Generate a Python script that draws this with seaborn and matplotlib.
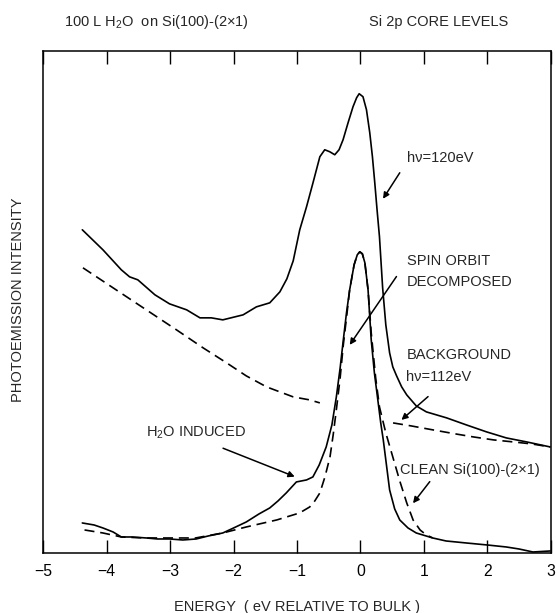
import numpy as np
import pandas as pd
import matplotlib
matplotlib.use("Agg")
import matplotlib.pyplot as plt
import seaborn as sns

# ---------------- data (energy in eV relative to bulk, intensity arb. units) ----
hv120_E = [-4.385, -4.06, -3.77, -3.64, -3.51, -3.24, -3.01, -2.74, -2.53, -2.35,
           -2.17, -1.85, -1.64, -1.43, -1.27, -1.16, -1.06, -0.957, -0.85, -0.748,
           -0.64, -0.563, -0.484, -0.405, -0.337, -0.274, -0.195, -0.117, -0.06, -0.02,
           0.04, 0.095, 0.147, 0.189, 0.226, 0.262, 0.30, 0.35, 0.40, 0.46,
           0.51, 0.57, 0.65, 0.73, 0.88, 1.04, 1.36, 1.67, 1.99, 2.30, 2.62, 2.99]
hv120_I = [323, 303, 283, 276, 273, 258, 249, 243, 235, 235,
           233, 238, 246, 250, 261, 274, 292, 323, 346, 370,
           396, 403, 401, 398, 403, 413, 430, 446, 455, 459,
           456, 443, 420, 396, 370, 343, 316, 265, 228, 200,
           186, 177, 166, 158, 147, 141, 135, 128, 121, 115, 111, 106]

bg1_E = [-4.375, -3.9, -3.4, -2.9, -2.48, -2.11, -1.80, -1.48, -1.06, -0.80, -0.64]
bg1_I = [285, 265, 244, 223, 205, 190, 177, 166, 156, 153, 150]
bg2_E = [0.514, 0.8, 1.145, 1.5, 1.78, 2.1, 2.41, 2.7, 2.99]
bg2_I = [130, 127, 123, 119, 116, 113, 111, 109, 106]

h2o_E = [-4.385, -4.2, -4.06, -3.9, -3.77, -3.6, -3.375, -3.2, -3.01, -2.8,
         -2.59, -2.4, -2.17, -2.0, -1.80, -1.6, -1.43, -1.3, -1.17, -1.01,
         -0.85, -0.75, -0.65, -0.54, -0.45, -0.38, -0.32, -0.27, -0.22, -0.17,
         -0.10, -0.05, -0.01, 0.03, 0.07, 0.12, 0.17, 0.22, 0.28, 0.32,
         0.36, 0.41, 0.46, 0.54, 0.62, 0.75, 0.88, 1.14, 1.35, 1.67,
         2.0, 2.30, 2.5, 2.72, 2.99]
h2o_I = [30, 28, 25, 21, 16, 16, 15, 14, 14, 13,
         14, 17, 20, 25, 31, 39, 45, 52, 60, 71,
         73, 76, 88, 106, 128, 156, 185, 213, 240, 263,
         288, 298, 301, 299, 290, 263, 213, 180, 150, 130,
         113, 88, 63, 44, 33, 25, 20, 15, 12, 10,
         8, 6, 4, 1, 2]

clean_E = [-4.35, -4.06, -3.77, -3.4, -3.01, -2.6, -2.17, -1.80, -1.32, -0.96,
           -0.80, -0.72, -0.64, -0.56, -0.48, -0.43, -0.38, -0.32, -0.27, -0.22,
           -0.17, -0.10, -0.05, -0.01, 0.03, 0.07, 0.12, 0.17, 0.24, 0.30,
           0.40, 0.51, 0.62, 0.73, 0.83, 0.94, 1.04, 1.14]
clean_I = [23, 20, 16, 15, 15, 15, 20, 26, 33, 40,
           46, 52, 60, 76, 96, 118, 143, 175, 208, 235,
           263, 288, 298, 301, 299, 290, 263, 220, 175, 146,
           120, 96, 72, 50, 33, 23, 18, 15]

x_ticks = [-5, -4, -3, -2, -1, 0, 1, 2, 3]

# ---------------- style ----------------
sns.set_style("white")
plt.rcParams['font.family'] = ['Liberation Sans', 'DejaVu Sans']
plt.rcParams['mathtext.fontset'] = 'custom'
plt.rcParams['mathtext.rm'] = 'Liberation Sans'
plt.rcParams['mathtext.it'] = 'Liberation Sans:italic'
plt.rcParams['axes.unicode_minus'] = True

FS = 10.5
fig = plt.figure(figsize=(5.56, 6.13), dpi=100)
ax = fig.add_axes([0.0779, 0.0979, 0.9126, 0.8194])

solid = dict(color='black', linewidth=1.2)
dash = dict(color='black', linewidth=1.2, linestyle=(0, (6, 3.5)))

sns.lineplot(x=hv120_E, y=hv120_I, ax=ax, sort=False, **solid)
sns.lineplot(x=bg1_E, y=bg1_I, ax=ax, sort=False, **dash)
sns.lineplot(x=bg2_E, y=bg2_I, ax=ax, sort=False, **dash)
sns.lineplot(x=clean_E, y=clean_I, ax=ax, sort=False, **dash)
sns.lineplot(x=h2o_E, y=h2o_I, ax=ax, sort=False, **solid)

ax.set_xlim(-5, 3)
ax.set_ylim(0, 502)
ax.set_xticks(x_ticks)
ax.set_xticklabels([f"{t}".replace('-', '\u2212') for t in x_ticks], fontsize=11.3)
ax.set_yticks([])
ax.tick_params(axis='x', which='both', direction='in', length=9.4, width=1.0,
               top=True, bottom=True, pad=8, colors='black')
for s in ax.spines.values():
    s.set_visible(True)
    s.set_linewidth(1.1)
    s.set_color('black')

ax.set_xlabel("ENERGY  ( eV RELATIVE TO BULK )", fontsize=FS, labelpad=15)
ax.set_ylabel("")

# titles and y label
fig.text(64 / 556, 1 - 22 / 613, "100 L H$_2$O  on Si(100)-(2\u00d71)", fontsize=FS,
         ha='left', va='center')
fig.text(369 / 556, 1 - 22 / 613, "Si 2p CORE LEVELS", fontsize=FS,
         ha='left', va='center')
fig.text(18.3 / 556, 1 - 300 / 613, "PHOTOEMISSION INTENSITY", fontsize=FS,
         rotation=90, ha='center', va='center')

# annotations
arrow = dict(arrowstyle='-|>', color='black', lw=1.1, mutation_scale=9,
             shrinkA=0, shrinkB=0)
ax.text(0.735, 394.7, "h\u03bd=120eV", fontsize=FS, ha='left', va='center')
ax.annotate("", xy=(0.356, 354), xytext=(0.62, 380), arrowprops=arrow)

ax.text(0.735, 292, "SPIN ORBIT", fontsize=FS, ha='left', va='center')
ax.text(0.735, 270.5, "DECOMPOSED", fontsize=FS, ha='left', va='center')
ax.annotate("", xy=(-0.169, 208), xytext=(0.568, 276.3), arrowprops=arrow)

ax.text(0.725, 198, "BACKGROUND", fontsize=FS, ha='left', va='center')
ax.text(0.725, 175.7, "h\u03bd=112eV", fontsize=FS, ha='left', va='center')
ax.annotate("", xy=(0.646, 133), xytext=(1.066, 156.3), arrowprops=arrow)

ax.text(0.62, 83, "CLEAN Si(100)-(2\u00d71)", fontsize=FS, ha='left', va='center')
ax.annotate("", xy=(0.829, 49.7), xytext=(1.093, 71.3), arrowprops=arrow)

ax.text(-3.385, 119.7, "H$_2$O INDUCED", fontsize=FS, ha='left', va='center')
ax.annotate("", xy=(-1.036, 76.3), xytext=(-2.166, 104.7), arrowprops=arrow)

fig.savefig("out.png", dpi=100, facecolor='white')
